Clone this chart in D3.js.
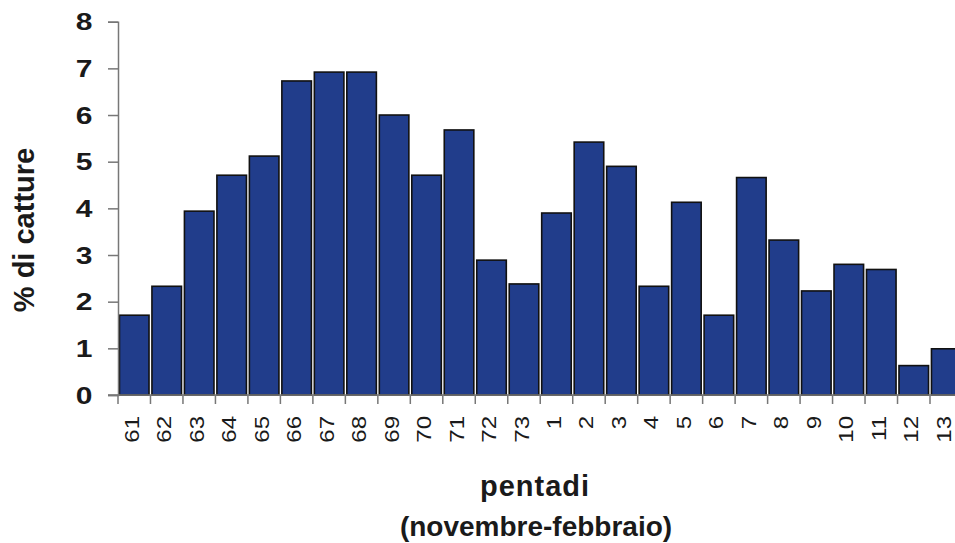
<!DOCTYPE html>
<html>
<head>
<meta charset="utf-8">
<script src="https://cdn.jsdelivr.net/npm/d3@7"></script>
<style>
  html, body { margin: 0; padding: 0; background: #fff; }
  svg { display: block; }
  text { font-family: Arial, "Liberation Sans", sans-serif; fill: #1a1a1a; }
</style>
</head>
<body>
<script>
const categories = ["61","62","63","64","65","66","67","68","69","70","71","72","73","1","2","3","4","5","6","7","8","9","10","11","12","13"];
const values = [1.71, 2.33, 3.94, 4.71, 5.12, 6.73, 6.92, 6.92, 6.0, 4.71, 5.68, 2.89, 2.38, 3.9, 5.42, 4.9, 2.33, 4.13, 1.71, 4.66, 3.32, 2.23, 2.8, 2.69, 0.63, 0.99];
const yTicks = [0,1,2,3,4,5,6,7,8];
const yTitle = "% di catture";
const xTitle1 = "pentadi";
const xTitle2 = "(novembre-febbraio)";

const W = 955, H = 543;
const svg = d3.select("body").append("svg").attr("width", W).attr("height", H);

const x0 = 118, slot = 32.48;
const x = d3.scaleBand().domain(categories).range([x0, x0 + slot * categories.length]).paddingInner(0.09).paddingOuter(0.045);
const y = d3.scaleLinear().domain([0, 8]).range([395, 21.7]);

// bars
svg.append("g").selectAll("rect").data(values).join("rect")
  .attr("x", (d, i) => x(categories[i]))
  .attr("y", d => y(d))
  .attr("width", x.bandwidth())
  .attr("height", d => y(0) - y(d))
  .attr("fill", "#213d8b")
  .attr("stroke", "#111")
  .attr("stroke-width", 1.6);

// y axis (line + ticks)
const gy = svg.append("g").attr("transform", `translate(${x0},0)`)
  .call(d3.axisLeft(y).tickValues(yTicks).tickFormat("").tickSize(10));
gy.select(".domain").attr("stroke", "#777").attr("stroke-width", 1.5);
gy.selectAll(".tick line").attr("stroke", "#777").attr("stroke-width", 1.5);

// y tick labels (wide bold digits)
svg.append("g").selectAll("text").data(yTicks).join("text")
  .attr("transform", d => `translate(92.5,${y(d)}) scale(1.25,1)`)
  .attr("text-anchor", "end")
  .attr("dy", "0.36em")
  .attr("font-size", 24)
  .attr("font-weight", "bold")
  .text(d => d);

// x axis baseline
svg.append("line").attr("x1", x0 - 10).attr("x2", W).attr("y1", y(0)).attr("y2", y(0))
  .attr("stroke", "#777").attr("stroke-width", 1.5);

// x tick marks at band boundaries
const bounds = categories.map((c, i) => x0 + i * slot);
svg.append("g").selectAll("line").data(bounds).join("line")
  .attr("x1", d => d).attr("x2", d => d)
  .attr("y1", y(0)).attr("y2", y(0) + 9)
  .attr("stroke", "#777").attr("stroke-width", 1.5);

// x tick labels (rotated)
svg.append("g").selectAll("text").data(categories).join("text")
  .attr("transform", d => `translate(${x(d) + x.bandwidth() / 2 + 4.5},416) rotate(-90) scale(1.2,1)`)
  .attr("text-anchor", "end")
  .attr("font-size", 20)
  .text(d => d);

// y title
svg.append("text")
  .attr("transform", `translate(34,230) rotate(-90)`)
  .attr("text-anchor", "middle")
  .attr("font-size", 29).attr("font-weight", "bold")
  .text(yTitle);

// x titles
svg.append("text").attr("x", 535).attr("y", 496).attr("text-anchor", "middle")
  .attr("font-size", 29).attr("font-weight", "bold").attr("letter-spacing", 1)
  .text(xTitle1);
svg.append("text").attr("x", 536).attr("y", 536).attr("text-anchor", "middle")
  .attr("font-size", 28).attr("font-weight", "bold")
  .text(xTitle2);
</script>
</body>
</html>
